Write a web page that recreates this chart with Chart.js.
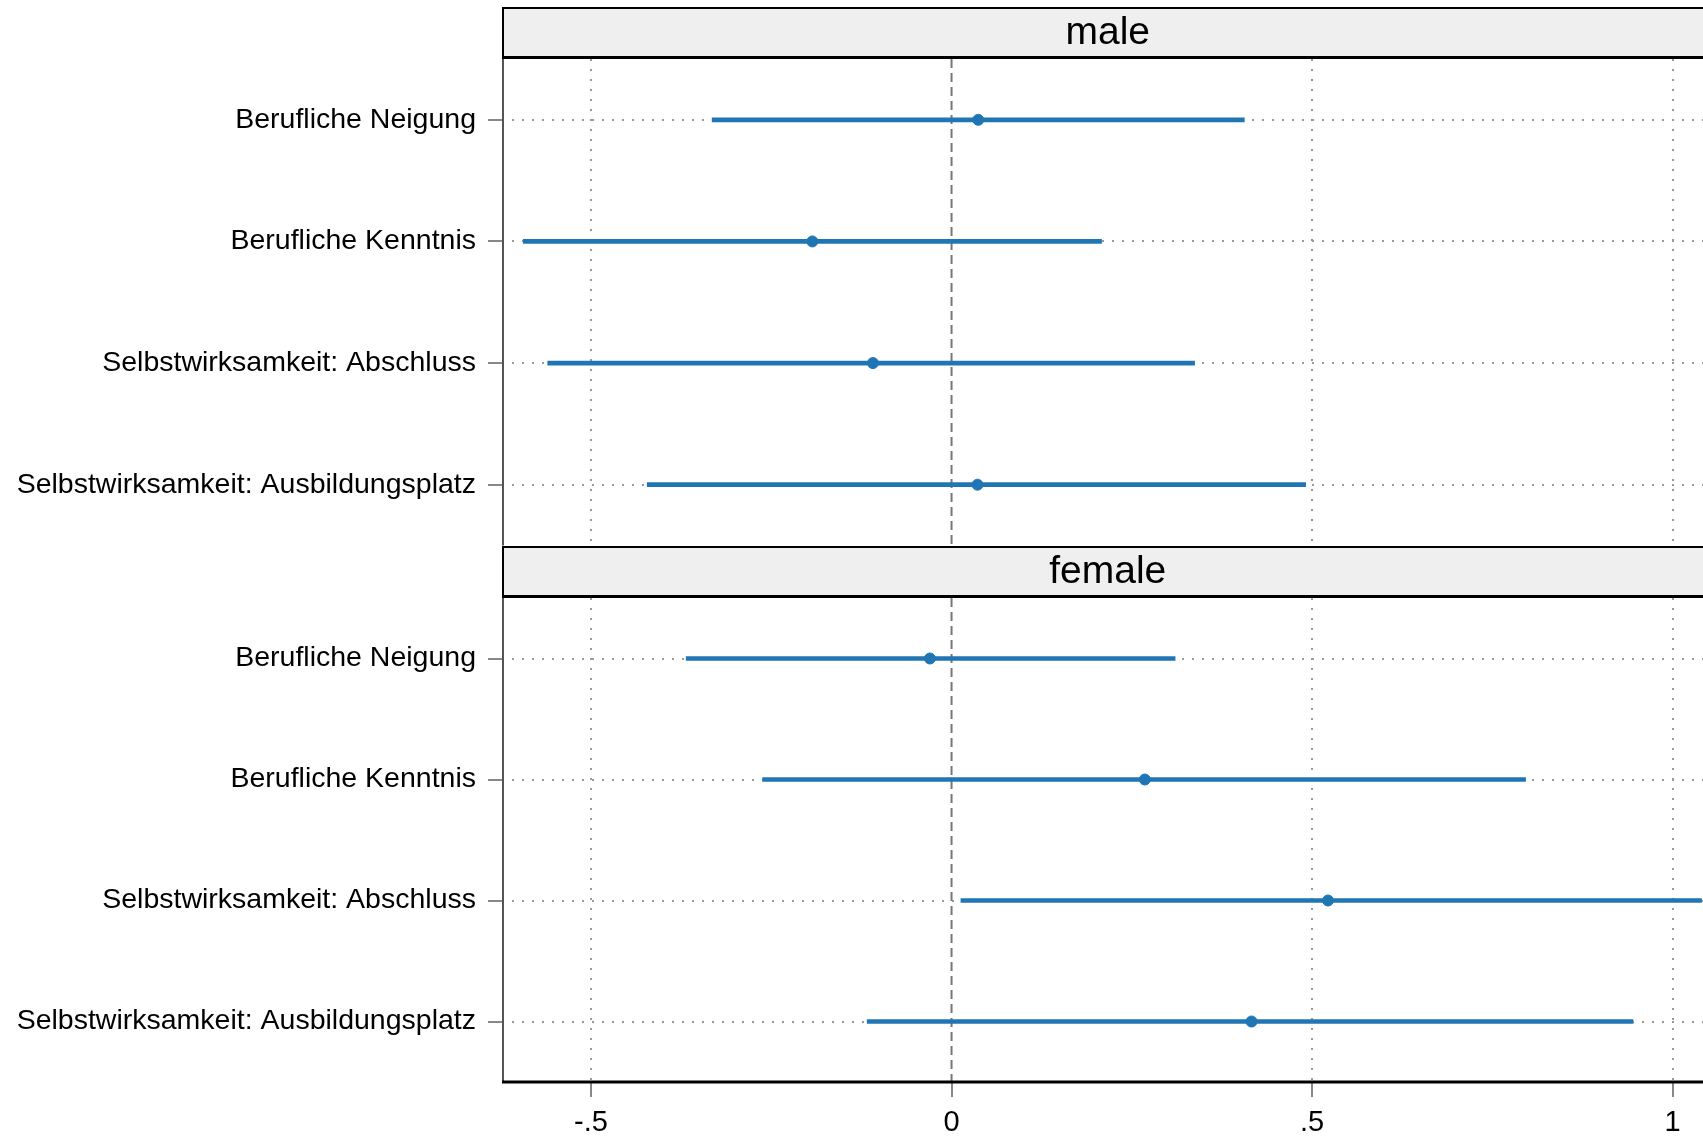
<!DOCTYPE html>
<html>
<head>
<meta charset="utf-8">
<script src="https://cdn.jsdelivr.net/npm/chart.js@4"></script>
<style>
  html, body { margin: 0; padding: 0; background: #fff; overflow: hidden; }
  #wrap { position: relative; width: 1703px; height: 1136px; overflow: hidden; }
  canvas { position: absolute; left: 0; }
</style>
</head>
<body>
<div id="wrap">
  <canvas id="male" width="1720" height="552" style="top:0"></canvas>
  <canvas id="female" width="1720" height="591" style="top:545px"></canvas>
</div>
<script>
var categories = ['Berufliche Neigung', 'Berufliche Kenntnis', 'Selbstwirksamkeit: Abschluss', 'Selbstwirksamkeit: Ausbildungsplatz'];

var maleEst = [0.037, -0.193, -0.109, 0.036];
var maleLo = [-0.332, -0.594, -0.560, -0.422];
var maleHi = [0.406, 0.208, 0.337, 0.491];

var femaleEst = [-0.030, 0.268, 0.522, 0.416];
var femaleLo = [-0.368, -0.262, 0.013, -0.117];
var femaleHi = [0.310, 0.796, 1.04, 0.945];

var xTicks = [-0.5, 0, 0.5, 1];
var xTickLabels = ['-.5', '0', '.5', '1'];

var blue = '#2076b4';
var font = "'Liberation Sans', Arial, sans-serif";

// strip header, zero line and frame around each panel
var panelPlugin = {
  id: 'panel',
  beforeDatasetsDraw: function (chart) {
    var ctx = chart.ctx, a = chart.chartArea;
    var x0 = chart.scales.x.getPixelForValue(0);
    ctx.save();
    ctx.strokeStyle = '#777';
    ctx.lineWidth = 2;
    ctx.setLineDash([9, 5]);
    ctx.beginPath();
    ctx.moveTo(x0, a.top);
    ctx.lineTo(x0, a.bottom);
    ctx.stroke();
    ctx.restore();
  },
  afterDraw: function (chart, args, opts) {
    var ctx = chart.ctx, a = chart.chartArea;
    ctx.save();
    // strip
    ctx.fillStyle = '#efefef';
    ctx.fillRect(a.left, opts.stripTop, a.right - a.left, opts.stripH);
    ctx.strokeStyle = '#000';
    ctx.lineWidth = 2;
    ctx.beginPath();
    ctx.moveTo(a.left, opts.stripTop + 1);
    ctx.lineTo(a.right, opts.stripTop + 1);
    ctx.moveTo(a.left + 1, opts.stripTop);
    ctx.lineTo(a.left + 1, opts.stripTop + opts.stripH);
    ctx.stroke();
    ctx.lineWidth = 3;
    ctx.beginPath();
    ctx.moveTo(a.left, opts.stripTop + opts.stripH - 0.5);
    ctx.lineTo(a.right, opts.stripTop + opts.stripH - 0.5);
    ctx.stroke();
    ctx.fillStyle = '#000';
    ctx.font = '39px ' + font;
    ctx.textAlign = 'center';
    ctx.textBaseline = 'middle';
    ctx.fillText(opts.title, (a.left + a.right) / 2, opts.stripTop + opts.stripH / 2 + 1);
    // left frame
    ctx.strokeStyle = '#555';
    ctx.lineWidth = 2;
    ctx.beginPath();
    ctx.moveTo(a.left + 1, a.top);
    ctx.lineTo(a.left + 1, a.bottom);
    ctx.stroke();
    if (opts.bottomAxis) {
      ctx.strokeStyle = '#000';
      ctx.lineWidth = 3;
      ctx.beginPath();
      ctx.moveTo(a.left, a.bottom);
      ctx.lineTo(a.right, a.bottom);
      ctx.stroke();
    }
    ctx.restore();
  }
};

function makePanel(id, title, est, lo, hi, opts) {
  var ctx = document.getElementById(id).getContext('2d');
  return new Chart(ctx, {
    type: 'bar',
    data: {
      labels: categories,
      datasets: [{
        type: 'scatter',
        data: est.map(function (v, i) { return { x: v, y: categories[i] }; }),
        backgroundColor: blue,
        borderColor: blue,
        pointRadius: 5.5,
        pointHoverRadius: 5.5,
        order: 0
      }, {
        type: 'bar',
        data: lo.map(function (v, i) { return [v, hi[i]]; }),
        backgroundColor: blue,
        borderWidth: 0,
        barThickness: 4,
        borderSkipped: false,
        order: 1
      }]
    },
    options: {
      indexAxis: 'y',
      responsive: false,
      animation: false,
      layout: { padding: { top: opts.padTop, bottom: opts.padBottom, left: 0, right: 0 } },
      plugins: {
        legend: { display: false },
        tooltip: { enabled: false },
        panel: { title: title, stripTop: opts.stripTop, stripH: opts.stripH, bottomAxis: opts.bottomAxis }
      },
      scales: {
        x: {
          type: 'linear',
          min: -0.6234,
          max: 1.0566,
          afterBuildTicks: function (s) { s.ticks = xTicks.map(function (v) { return { value: v }; }); },
          afterFit: function (s) { s.height = opts.xHeight; s.paddingLeft = 0; s.paddingRight = 0; },
          border: { display: false, dash: [2, 8] },
          grid: {
            color: function (c) { return c.tick && c.tick.value === 0 ? 'rgba(0,0,0,0)' : '#999'; },
            lineWidth: 2,
            drawTicks: opts.bottomAxis,
            tickLength: 15,
            tickColor: '#888',
            tickWidth: 2
          },
          ticks: {
            display: opts.bottomAxis,
            color: '#000',
            padding: 9,
            maxRotation: 0,
            font: { family: font, size: 29 },
            callback: function (v) {
              var i = xTicks.indexOf(v);
              return i >= 0 ? xTickLabels[i] : '';
            }
          }
        },
        y: {
          type: 'category',
          labels: categories,
          afterFit: function (s) { s.width = 502; s.paddingTop = 0; s.paddingBottom = 0; },
          border: { display: false, dash: [2, 8] },
          grid: {
            offset: false,
            color: '#999',
            lineWidth: 2,
            drawTicks: true,
            tickLength: 14,
            tickColor: '#888',
            tickWidth: 2
          },
          ticks: {
            color: '#000',
            padding: 12,
            font: { family: font, size: 28.5 }
          }
        }
      }
    },
    plugins: [panelPlugin]
  });
}

makePanel('male', 'male', maleEst, maleLo, maleHi,
  { padTop: 59, padBottom: 2, stripTop: 7, stripH: 51, xHeight: 0, bottomAxis: false });
makePanel('female', 'female', femaleEst, femaleLo, femaleHi,
  { padTop: 53, padBottom: 0, stripTop: 1, stripH: 51, xHeight: 54, bottomAxis: true });
</script>
</body>
</html>
